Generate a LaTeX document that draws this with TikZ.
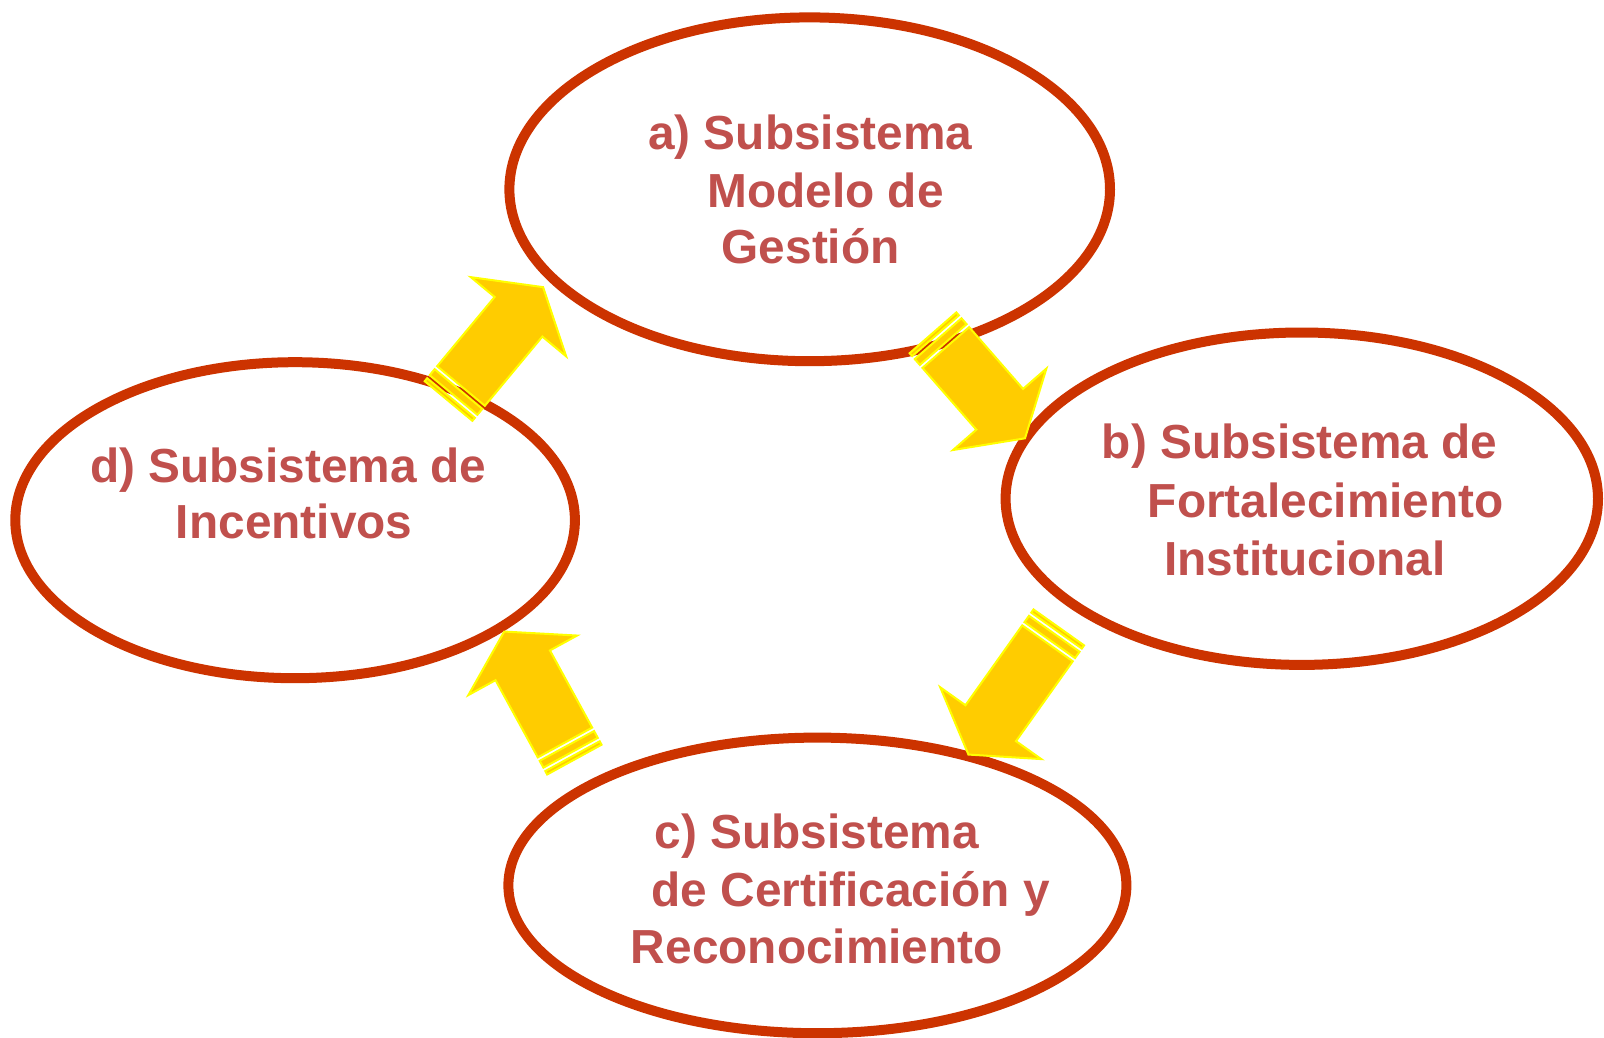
\documentclass[tikz,border=0pt]{standalone}
\usepackage{fontspec}
\setmainfont{Liberation Sans}
\definecolor{ovalred}{RGB}{204,51,0}
\definecolor{subtextred}{RGB}{192,80,77}
\definecolor{arrowgold}{RGB}{255,204,0}
\definecolor{arrowedge}{RGB}{255,255,0}
\tikzset{
  oval/.style={draw=ovalred, line width=7.5pt},
  arrowpart/.style={fill=arrowgold, draw=arrowedge, line width=1.5pt, line join=miter},
  subtext/.style={anchor=base, inner sep=0pt, text=subtextred, font=\fontsize{35.85}{43}\selectfont\bfseries}
}
% striped block arrow: #1 tail of body, #2 rotation, #3 shaft length
\newcommand{\stripedarrow}[3]{%
  \begin{scope}[shift={#1}, rotate=#2]
    \draw [arrowpart] (-19.5,-31) rectangle (-15.6,31);
    \draw [arrowpart] (-11.7,-31) rectangle (-3.9,31);
    \draw [arrowpart] (0,-31) -- (#3,-31) -- (#3,-62) -- (#3+38.5,0) -- (#3,62) -- (#3,31) -- (0,31) -- cycle;
  \end{scope}}
\begin{document}
\begin{tikzpicture}[x=0.75pt,y=0.75pt,yscale=-1,xscale=1]
\useasboundingbox (0,0) rectangle (1604,1038);

%Shape: Ellipse [a]
\coordinate (oa) at (809.7,189.3);
\draw [oval] (oa) ellipse [x radius=300.3, y radius=171.9];
%Shape: Ellipse [b]
\coordinate (ob) at (1301.8,498.7);
\draw [oval] (ob) ellipse [x radius=296.2, y radius=166.2];
%Shape: Ellipse [c]
\coordinate (oc) at (817.4,885.4);
\draw [oval] (oc) ellipse [x radius=309, y radius=147.8];
%Shape: Ellipse [d]
\coordinate (od) at (295.1,520.2);
\draw [oval] (od) ellipse [x radius=279.8, y radius=158];

%Shape: Striped Right Arrow [d to a]
\stripedarrow{(461,386)}{-50.3}{90}
%Shape: Striped Right Arrow [a to b]
\stripedarrow{(945.8,347.5)}{48.9}{82}
%Shape: Striped Right Arrow [b to c]
\stripedarrow{(1047.5,643.3)}{125.4}{98}
%Shape: Striped Right Arrow [c to d]
\stripedarrow{(565,742.5)}{-118.7}{88}

% Text Node
\node [subtext] (ta1) at (810.3,150) {a) Subsistema};
% Text Node
\node [subtext] (ta2) at (825.5,207.3) {Modelo de};
% Text Node
\node [subtext] (ta3) at (810.7,263.3) {Gestión};
% Text Node
\node [subtext] (tb1) at (1299.7,458.5) {b) Subsistema de};
% Text Node
\node [subtext] (tb2) at (1325.8,517) {Fortalecimiento};
% Text Node
\node [subtext] (tb3) at (1304.8,575) {Institucional};
% Text Node
\node [subtext] (tc1) at (816.7,848) {c) Subsistema};
% Text Node
\node [subtext] (tc2) at (850.8,906) {de Certificación y};
% Text Node
\node [subtext] (tc3) at (816.9,963) {Reconocimiento};
% Text Node
\node [subtext] (td1) at (288,482) {d) Subsistema de};
% Text Node
\node [subtext] (td2) at (294.2,538) {Incentivos};

\end{tikzpicture}
\end{document}
